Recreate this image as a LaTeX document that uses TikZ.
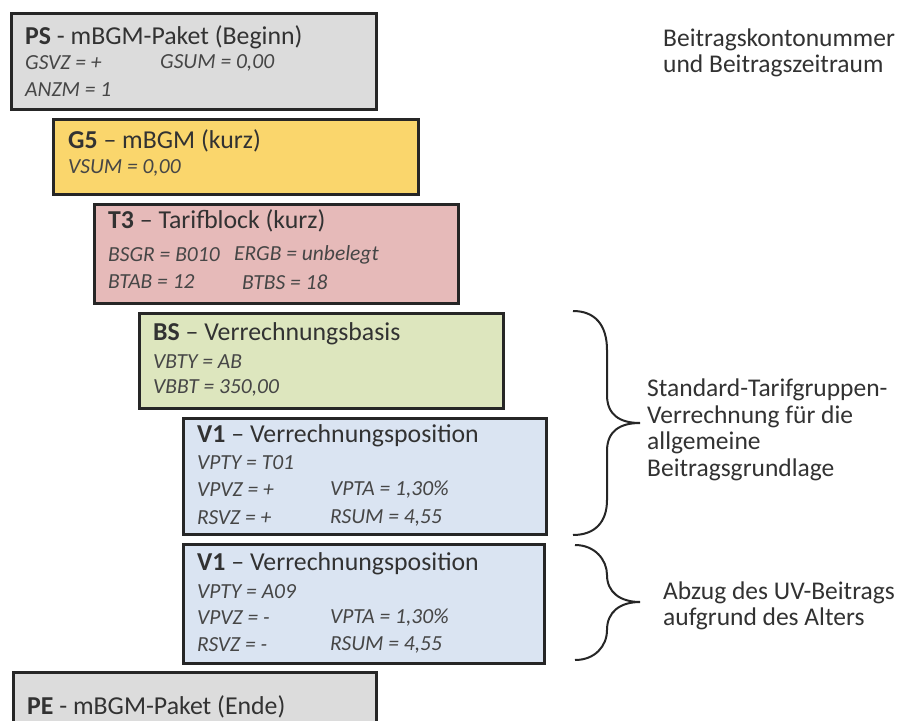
\documentclass[tikz,border=0pt]{standalone}
\usepackage{fontspec}
\setmainfont{Carlito}
\definecolor{boxline}{RGB}{38,38,38}
\definecolor{txt}{RGB}{50,50,50}
\definecolor{txt2}{RGB}{70,70,70}
\definecolor{psfill}{RGB}{220,220,220}
\definecolor{gfill}{RGB}{250,214,108}
\definecolor{tfill}{RGB}{230,186,185}
\definecolor{bfill}{RGB}{221,230,190}
\definecolor{vfill}{RGB}{218,228,242}
\begin{document}
\begin{tikzpicture}[x=1pt,y=-1pt,
  box/.style={draw=boxline, line width=3pt, anchor=north west, inner sep=0pt},
  ttl/.style={anchor=west, inner sep=0pt, text=txt, font=\fontsize{25.8}{30}\selectfont},
  itl/.style={anchor=west, inner sep=0pt, text=txt2, font=\fontsize{21.5}{26}\selectfont\itshape},
  note/.style={anchor=west, inner sep=0pt, text=txt, font=\fontsize{25.5}{26.5}\selectfont, align=left},
  brc/.style={draw=boxline, line width=2pt}
]
\clip (0,0) rectangle (910,720);
\fill[white] (0,0) rectangle (910,720);
% boxes
\node[box, fill=psfill, minimum width=365pt, minimum height=96pt] (ps) at (10,12) {};
\node[box, fill=gfill, minimum width=365pt, minimum height=75pt] (g5) at (52,118) {};
\node[box, fill=tfill, minimum width=364pt, minimum height=99pt] (t3) at (93,203) {};
\node[box, fill=bfill, minimum width=364pt, minimum height=95pt] (bs) at (138,312) {};
\node[box, fill=vfill, minimum width=363pt, minimum height=116pt] (va) at (182,417) {};
\node[box, fill=vfill, minimum width=361pt, minimum height=119pt] (vb) at (182,543) {};
\node[box, fill=psfill, minimum width=363pt, minimum height=70pt] (pe) at (12,671) {};
% PS
\node[ttl] (pst) at (25,37) {\textbf{PS} - mBGM-Paket (Beginn)};
\node[itl] (ps1) at (25,63) {GSVZ = +};
\node[itl] (ps2) at (160,63) {GSUM = 0,00};
\node[itl] (ps3) at (25,90) {ANZM = 1};
% G5
\node[ttl] (g5t) at (68,141) {\textbf{G5} -- mBGM (kurz)};
\node[itl] (g51) at (68,168) {VSUM = 0,00};
% T3
\node[ttl] (t3t) at (108,221) {\textbf{T3} -- Tarifblock (kurz)};
\node[itl] (t31) at (108,255) {BSGR = B010};
\node[itl] (t32) at (234,255) {ERGB = unbelegt};
\node[itl] (t33) at (108,282) {BTAB = 12};
\node[itl] (t34) at (242,282) {BTBS = 18};
% BS
\node[ttl] (bst) at (153,334) {\textbf{BS} -- Verrechnungsbasis};
\node[itl] (bs1) at (153,362) {VBTY = AB};
\node[itl] (bs2) at (153,388) {VBBT = 350,00};
% V1 a
\node[ttl] (vat) at (197,436) {\textbf{V1} -- Verrechnungsposition};
\node[itl] (va1) at (197,463) {VPTY = T01};
\node[itl] (va2) at (197,490) {VPVZ = +};
\node[itl] (va3) at (330,490) {VPTA = 1,30\%};
\node[itl] (va4) at (197,518) {RSVZ = +};
\node[itl] (va5) at (330,518) {RSUM = 4,55};
% V1 b
\node[ttl] (vbt) at (197,564) {\textbf{V1} -- Verrechnungsposition};
\node[itl] (vb1) at (197,592) {VPTY = A09};
\node[itl] (vb2) at (197,618) {VPVZ = -};
\node[itl] (vb3) at (330,618) {VPTA = 1,30\%};
\node[itl] (vb4) at (197,645) {RSVZ = -};
\node[itl] (vb5) at (330,645) {RSUM = 4,55};
% PE
\node[ttl] (pet) at (27,707) {\textbf{PE} - mBGM-Paket (Ende)};
% notes
\node[note] (n1) at (663,53) {Beitragskontonummer\\und Beitragszeitraum};
\node[note] (n2) at (647,430) {Standard-Tarifgruppen-\\Verrechnung für die\\allgemeine\\Beitragsgrundlage};
\node[note] (n3) at (663,606) {Abzug des UV-Beitrags\\aufgrund des Alters};
% braces
\coordinate (b1a) at (573,311);
\coordinate (b1t) at (640,423);
\coordinate (b1b) at (573,535);
\draw[brc] (b1a) .. controls (595,311) and (607,325) .. (607,350)
  -- (607,395) .. controls (607,415) and (620,423) .. (b1t)
  .. controls (620,423) and (607,431) .. (607,451)
  -- (607,500) .. controls (607,522) and (595,535) .. (b1b);
\coordinate (b2a) at (575,545);
\coordinate (b2t) at (640,602);
\coordinate (b2b) at (575,660);
\draw[brc] (b2a) .. controls (595,545) and (607,560) .. (607,575)
  .. controls (607,592) and (620,602) .. (b2t)
  .. controls (620,602) and (607,612) .. (607,630)
  .. controls (607,646) and (595,660) .. (b2b);
\end{tikzpicture}
\end{document}
